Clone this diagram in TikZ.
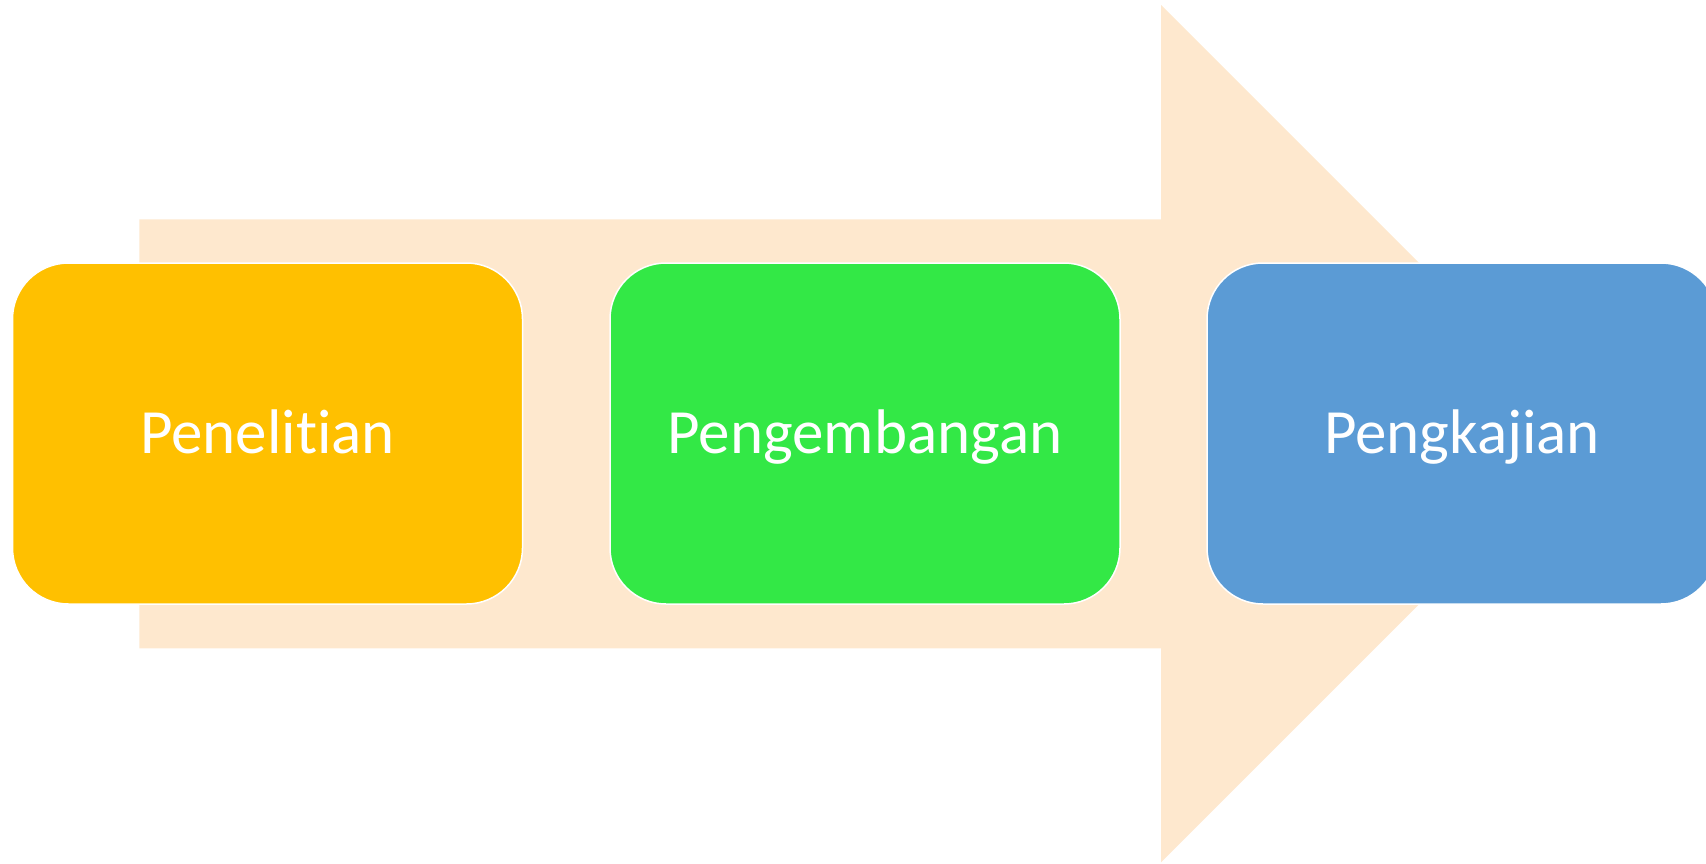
\documentclass[tikz,border=0pt]{standalone}
\usepackage{fontspec}
\setmainfont{Carlito}[Ligatures={NoCommon,NoContextual}]
\definecolor{arrowfill}{HTML}{FEE8CE}
\definecolor{boxyellow}{HTML}{FFC000}
\definecolor{boxgreen}{HTML}{33E846}
\definecolor{boxblue}{HTML}{5B9BD5}
\begin{document}
\begin{tikzpicture}[x=1pt,y=-1pt,
  stepbox/.style={rounded corners=56pt, minimum width=510pt, minimum height=341pt,
    draw=white, line width=1.5pt, text=white, font=\fontsize{63}{75}\selectfont,
    text height=40.6pt, text depth=0pt, inner sep=0pt}]
\useasboundingbox (0,0) rectangle (1706,863);
\clip (0,0) rectangle (1706,863);
\fill[arrowfill] (139.3,219.3) -- (1161,219.3) -- (1161,5) -- (1589.7,433.7)
  -- (1161,862.4) -- (1161,648.3) -- (139.3,648.3) -- cycle;
\node[stepbox, fill=boxyellow] (p1) at (267.5,433.5) {Penelitian};
\node[stepbox, fill=boxgreen] (p2) at (865,433.5) {Pengembangan};
\node[stepbox, fill=boxblue] (p3) at (1462,433.5) {Pengkajian};
\end{tikzpicture}
\end{document}
